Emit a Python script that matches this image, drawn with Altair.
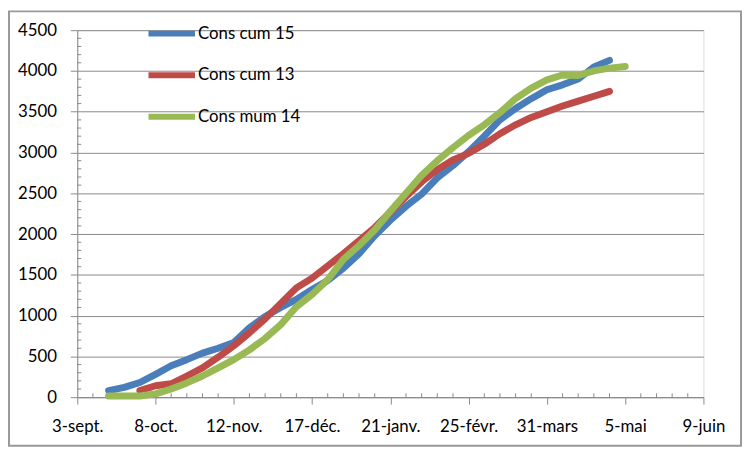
import altair as alt
import pandas as pd

# ---- data (day offset from 3 September) ----
blue_days = [14, 21, 28, 35, 42, 49, 56, 63, 70, 77, 84, 91, 98, 105, 112, 119, 126, 133, 140,
             147, 154, 161, 168, 175, 182, 189, 196, 203, 210, 217, 224, 231, 238]
blue_vals = [80, 120, 180, 280, 385, 460, 540, 600, 670, 850, 990, 1100, 1200, 1320, 1430, 1580,
             1760, 1980, 2170, 2340, 2490, 2690, 2840, 3010, 3200, 3400, 3540, 3660, 3770, 3830,
             3900, 4050, 4130]

red_days = [28, 35, 42, 49, 56, 63, 70, 77, 84, 91, 98, 105, 112, 119, 126, 133, 140, 147, 154,
            161, 168, 175, 182, 189, 196, 203, 210, 217, 224, 231, 238]
red_vals = [80, 140, 165, 260, 360, 490, 630, 790, 960, 1150, 1340, 1460, 1610, 1760, 1920, 2080,
            2270, 2460, 2640, 2790, 2910, 2990, 3100, 3230, 3340, 3430, 3500, 3570, 3630, 3690, 3750]

green_days = [14, 21, 28, 35, 42, 49, 56, 63, 70, 77, 84, 91, 98, 105, 112, 119, 126, 133, 140,
              147, 154, 161, 168, 175, 182, 189, 196, 203, 210, 217, 224, 231, 238, 245]
green_vals = [15, 15, 15, 40, 100, 175, 260, 360, 460, 580, 720, 890, 1110, 1260, 1440, 1690, 1860,
              2050, 2280, 2500, 2720, 2900, 3060, 3210, 3340, 3490, 3660, 3790, 3890, 3950, 3945,
              4000, 4035, 4055]

series_names = ["Cons cum 15", "Cons cum 13", "Cons mum 14"]
series_colors = ["#4A7EBB", "#BE4B48", "#98B954"]

x_tick_values = [0, 35, 70, 105, 140, 175, 210, 245, 280]
x_tick_labels = ["3-sept.", "8-oct.", "12-nov.", "17-déc.", "21-janv.", "25-févr.",
                 "31-mars", "5-mai", "9-juin"]
y_tick_values = [0, 500, 1000, 1500, 2000, 2500, 3000, 3500, 4000, 4500]

x_minor = [d for d in range(7, 280, 7) if d % 35 != 0]
y_minor = [v for v in range(100, 4500, 100) if v % 500 != 0]

rows = []
for name, days, vals in [(series_names[0], blue_days, blue_vals),
                         (series_names[1], red_days, red_vals),
                         (series_names[2], green_days, green_vals)]:
    for d, v in zip(days, vals):
        rows.append({"day": d, "value": v, "serie": name})
df = pd.DataFrame(rows)

FONT = "Lato"
AX = "#8A8A8A"

label_expr = "[" + ",".join("'" + l + "'" for l in x_tick_labels) + "][round(datum.value/35)]"

x_scale = alt.Scale(domain=[0, 280], nice=False, zero=False)
y_scale = alt.Scale(domain=[0, 4500], nice=False)

lines = alt.Chart(df).mark_line(strokeWidth=7, strokeCap="round", strokeJoin="round").encode(
    x=alt.X("day:Q", scale=x_scale, title=None,
            axis=alt.Axis(values=x_tick_values, labelExpr=label_expr, grid=False,
                          domainColor=AX, tickColor=AX, tickSize=7, labelPadding=15,
                          labelFont=FONT, labelFontSize=17, labelColor="black",
                          labelFlush=False, labelOverlap=False)),
    y=alt.Y("value:Q", scale=y_scale, title=None,
            axis=alt.Axis(values=y_tick_values, grid=True, gridColor=AX, gridWidth=1,
                          format="d",
                          domainColor=AX, tickColor=AX, tickSize=7, labelPadding=14,
                          labelFont=FONT, labelFontSize=17, labelColor="black")),
    color=alt.Color("serie:N",
                    scale=alt.Scale(domain=series_names, range=series_colors),
                    legend=alt.Legend(orient="none", legendX=69, legendY=-23, title=None,
                                      symbolType="stroke", symbolSize=2209,
                                      symbolStrokeWidth=6, labelFont=FONT,
                                      labelFontSize=17, labelColor="black",
                                      rowPadding=3, labelOffset=0, padding=0)),
    order=alt.Order("day:Q"),
    detail="serie:N",
)

xminor_df = pd.DataFrame({"d": x_minor})
xminor = alt.Chart(xminor_df).mark_rule(color=AX, strokeWidth=1).encode(
    x=alt.X("d:Q", scale=x_scale),
    y=alt.YDatum(0),
    y2=alt.Y2Datum(48),
)

yminor_df = pd.DataFrame({"v": y_minor})
yminor = alt.Chart(yminor_df).mark_rule(color=AX, strokeWidth=1).encode(
    y=alt.Y("v:Q", scale=y_scale),
    x=alt.XDatum(0),
    x2=alt.X2Datum(1.8),
)

frame = alt.Chart(pd.DataFrame({"a": [0]})).mark_rect(
    fill=None, stroke="#999999", strokeWidth=2
).encode(
    x=alt.value(-69), x2=alt.value(671), y=alt.value(-19), y2=alt.value(420)
)

chart = alt.layer(xminor, yminor, lines, frame).properties(
    width=633, height=371,
    autosize=alt.AutoSizeParams(type="none"),
    padding={"left": 70, "top": 20, "right": 41, "bottom": 54},
).configure_view(stroke=None).configure(background="white")

chart.save("out.html", embed_options={"renderer": "svg", "actions": False})
